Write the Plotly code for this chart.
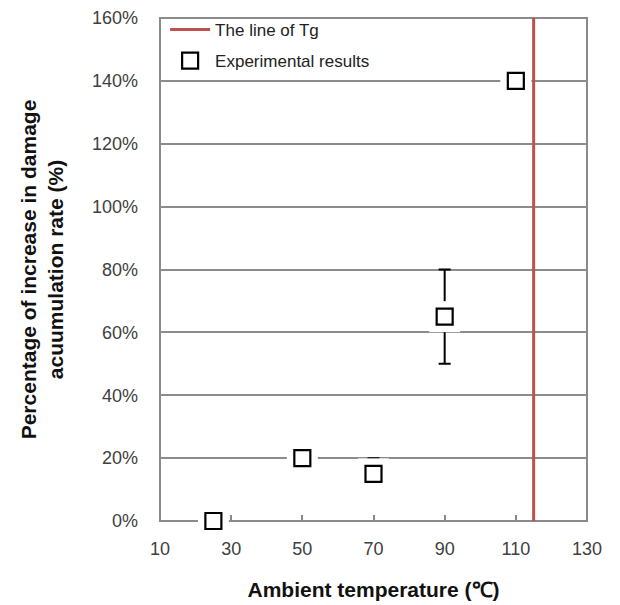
import plotly.graph_objects as go

temps = [25, 50, 70, 90, 110]
rates = [0.0, 0.20, 0.15, 0.65, 1.40]
err_plus = [0, 0, 0.05, 0.15, 0]
err_minus = [0, 0, 0, 0.15, 0]
tg = 115
y_ticks = [0, 0.2, 0.4, 0.6, 0.8, 1.0, 1.2, 1.4, 1.6]
x_ticks = [10, 30, 50, 70, 90, 110, 130]

fig = go.Figure()
# error bars
fig.add_trace(go.Scatter(x=temps, y=rates, mode="markers", showlegend=False,
                         marker=dict(size=1, color="rgba(0,0,0,0)"),
                         error_y=dict(type="data", symmetric=False, array=err_plus,
                                      arrayminus=err_minus, color="black", thickness=2, width=6),
                         cliponaxis=False, hoverinfo="skip"))
# white halo
fig.add_trace(go.Scatter(x=temps, y=rates, mode="markers", showlegend=False,
                         marker=dict(symbol="square", size=31, color="white", line=dict(width=0)),
                         cliponaxis=False, hoverinfo="skip"))
fig.add_trace(go.Scatter(x=temps, y=rates, mode="markers", name="Experimental results",
                         legendgroup="b",
                         marker=dict(symbol="square", size=16, color="white",
                                     line=dict(color="black", width=2.2)),
                         cliponaxis=False, legendrank=2))
fig.add_trace(go.Scatter(x=[tg, tg], y=[0, 1.6], mode="lines", name="The line of Tg",
                         legendgroup="a",
                         line=dict(color="#C0504D", width=3), legendrank=1))

# plot-area border (cut by the marker halo like the reference)
fig.add_shape(type="rect", xref="paper", yref="paper", x0=0, y0=0, x1=1, y1=1,
              line=dict(color="#8a8a8a", width=2), layer="between")

fig.update_layout(
    width=620, height=605,
    margin=dict(l=160, r=33, t=15, b=84),
    plot_bgcolor="white", paper_bgcolor="white",
    font=dict(family="Liberation Sans, Arial, sans-serif", size=18, color="#404040"),
    legend=dict(x=0.012, y=1.012, xanchor="left", yanchor="top", bgcolor="rgba(255,255,255,0)",
                font=dict(size=17, color="#222222"), itemwidth=40, tracegroupgap=6),
    xaxis=dict(range=[10, 130], tickvals=x_ticks, ticks="inside", ticklen=6, tickcolor="#888888",
               tickwidth=1.5, showgrid=False, zeroline=False, showline=False, automargin=False,
               tickfont=dict(size=18, color="#404040"), ticklabelstandoff=15,
               title=dict(text="<b>Ambient temperature (℃)</b>", font=dict(size=21, color="#111111"),
                          standoff=24)),
    yaxis=dict(range=[0, 1.6], tickvals=y_ticks, tickformat=".0%", showgrid=True,
               gridcolor="#8c8c8c", gridwidth=1.5, zeroline=False, showline=False, automargin=False,
               ticks="", layer="below traces", tickfont=dict(size=18, color="#404040"),
               ticklabelstandoff=21,
               title=dict(text="<b>Percentage of increase in damage<br>acuumulation rate (%)</b>",
                          font=dict(size=21, color="#111111"), standoff=22)),
)

fig.write_html("out.html")
